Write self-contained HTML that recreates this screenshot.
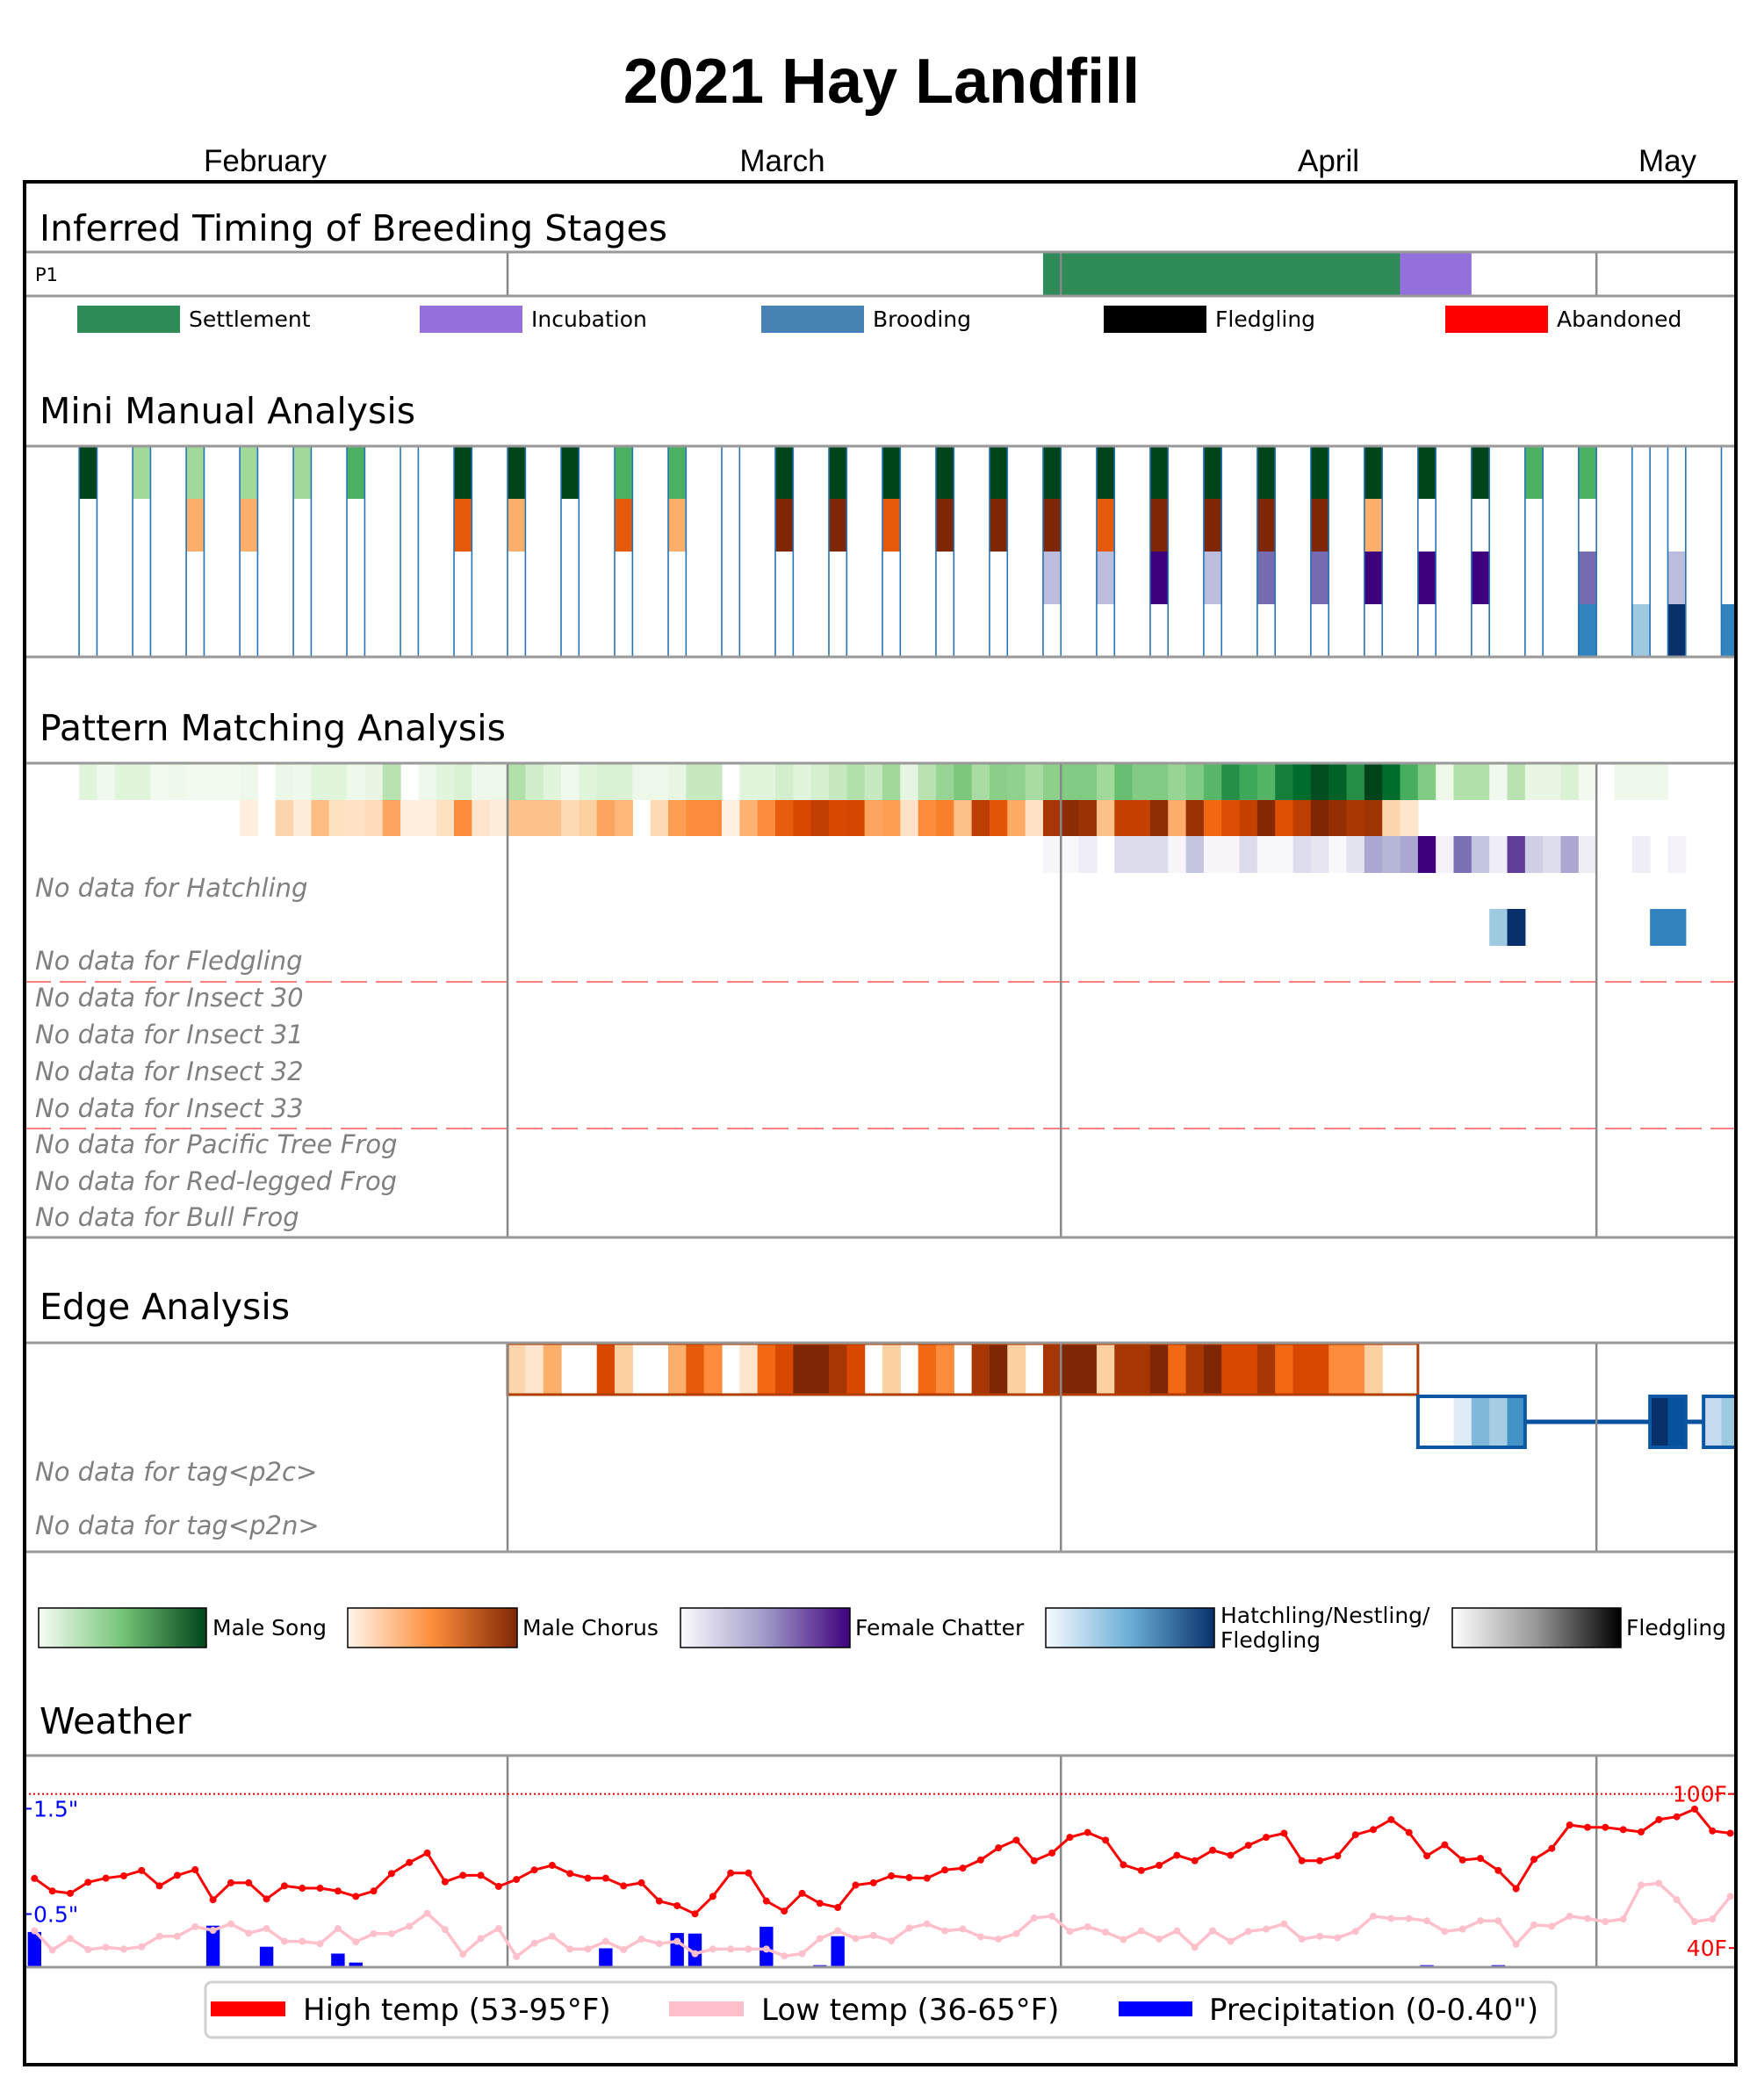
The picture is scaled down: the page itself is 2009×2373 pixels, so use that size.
<!DOCTYPE html>
<html><head><meta charset="utf-8"><style>
html,body{margin:0;padding:0;background:#fff;}
svg{display:block;}
.sec{font-family:"DejaVu Sans",sans-serif;font-size:41px;fill:#000;}
.nd{font-family:"DejaVu Sans",sans-serif;font-style:italic;font-size:29px;fill:#808080;}
.lg{font-family:"DejaVu Sans",sans-serif;font-size:25px;fill:#000;}
.mon{font-family:"Liberation Sans",sans-serif;font-size:35px;fill:#000;}
</style></head><body>
<svg id="chart" width="2009" height="2373" viewBox="0 0 2009 2373" xmlns="http://www.w3.org/2000/svg">
<rect x="0" y="0" width="2009" height="2373" fill="#fff"/>
<text x="1004" y="117" text-anchor="middle" font-family="Liberation Sans, sans-serif" font-weight="bold" font-size="72">2021 Hay Landfill</text>
<text class="mon" x="302" y="195" text-anchor="middle">February</text>
<text class="mon" x="891" y="195" text-anchor="middle">March</text>
<text class="mon" x="1513" y="195" text-anchor="middle">April</text>
<text class="mon" x="1899" y="195" text-anchor="middle">May</text>

<text class="sec" x="45" y="274">Inferred Timing of Breeding Stages</text>
<text class="sec" x="45" y="482">Mini Manual Analysis</text>
<text class="sec" x="45" y="843">Pattern Matching Analysis</text>
<text class="sec" x="45" y="1502">Edge Analysis</text>
<text class="sec" x="45" y="1974">Weather</text>

<g id="content" clip-path="url(#frameclip)"></g>
<defs>
<clipPath id="frameclip"><rect x="28" y="207" width="1949" height="2144"/></clipPath>
<linearGradient id="gGreens"><stop offset="0" stop-color="#f7fcf5"/><stop offset="0.5" stop-color="#74c476"/><stop offset="1" stop-color="#00441b"/></linearGradient>
<linearGradient id="gOranges"><stop offset="0" stop-color="#fff5eb"/><stop offset="0.5" stop-color="#fd8d3c"/><stop offset="1" stop-color="#7f2704"/></linearGradient>
<linearGradient id="gPurples"><stop offset="0" stop-color="#fcfbfd"/><stop offset="0.5" stop-color="#9e9ac8"/><stop offset="1" stop-color="#3f007d"/></linearGradient>
<linearGradient id="gBlues"><stop offset="0" stop-color="#f7fbff"/><stop offset="0.5" stop-color="#6baed6"/><stop offset="1" stop-color="#08306b"/></linearGradient>
<linearGradient id="gGreys"><stop offset="0" stop-color="#ffffff"/><stop offset="0.5" stop-color="#969696"/><stop offset="1" stop-color="#000000"/></linearGradient>
</defs>

<!-- colorbar legend -->
<rect x="44" y="1831" width="191" height="45" fill="url(#gGreens)" stroke="#000" stroke-width="1.5"/>
<text class="lg" x="242" y="1862">Male Song</text>
<rect x="396" y="1831" width="193" height="45" fill="url(#gOranges)" stroke="#000" stroke-width="1.5"/>
<text class="lg" x="595" y="1862">Male Chorus</text>
<rect x="775" y="1831" width="193" height="45" fill="url(#gPurples)" stroke="#000" stroke-width="1.5"/>
<text class="lg" x="974" y="1862">Female Chatter</text>
<rect x="1191" y="1831" width="192" height="45" fill="url(#gBlues)" stroke="#000" stroke-width="1.5"/>
<text class="lg" x="1390" y="1848">Hatchling/Nestling/</text>
<text class="lg" x="1390" y="1876">Fledgling</text>
<rect x="1654" y="1831" width="192" height="45" fill="url(#gGreys)" stroke="#000" stroke-width="1.5"/>
<text class="lg" x="1852" y="1862">Fledgling</text>

<!-- weather legend -->
<rect x="234" y="2257" width="1538" height="63" rx="7" fill="#fff" stroke="#d0d0d0" stroke-width="3"/>
<rect x="240" y="2279" width="85" height="17" fill="#ff0000"/>
<text x="345" y="2300" font-family="DejaVu Sans, sans-serif" font-size="34">High temp (53-95°F)</text>
<rect x="762" y="2279" width="85" height="17" fill="#ffc0cb"/>
<text x="867" y="2300" font-family="DejaVu Sans, sans-serif" font-size="34">Low temp (36-65°F)</text>
<rect x="1274" y="2279" width="84" height="17" fill="#0000ff"/>
<text x="1377" y="2300" font-family="DejaVu Sans, sans-serif" font-size="34">Precipitation (0-0.40")</text>

<rect x="28" y="207" width="1949" height="2144" fill="none" stroke="#000" stroke-width="4"/>
</svg>
<script>
// ---------- data ----------
const stageNames = ["Settlement","Incubation","Brooding","Fledgling","Abandoned"];
const stageColors = ["#2e8b57","#9370db","#4682b4","#000000","#ff0000"];
const stageStart = [58, 78];
const stageEnd = [78, 82];

const mmDays = [4,7,10,13,16,19,22,25,28,31,34,37,40,43,46,49,52,55,58,61,64,67,70,73,76,79,82,85,88,91,93,96];
const mmSong = [1,.375,.375,.375,.375,.6,null,1,1,1,.6,.6,null,1,1,1,1,1,1,1,1,1,1,1,1,1,1,.6,.6,null,null,null];
const mmChorus = [null,null,.375,.375,null,null,null,.68,.375,null,.68,.375,null,1,1,.68,1,1,1,.68,1,1,1,1,.375,null,null,null,null,null,null,null];
const mmFemale = [null,null,null,null,null,null,null,null,null,null,null,null,null,null,null,null,null,null,.375,.375,1,.375,.68,.68,1,1,1,null,.68,null,.375,null];
const mmBrood = [null,null,null,null,null,null,null,null,null,null,null,null,null,null,null,null,null,null,null,null,null,null,null,null,null,null,null,null,.68,.375,1,.68];

const pmSongStart = 4;
const pmSong = [.14,.05,.14,.14,.03,.06,.03,.03,.03,.06,null,.08,.06,.14,.14,.06,.1,.3,null,.06,.14,.17,.06,.07,.32,.21,.14,.05,.14,.17,.17,.07,.07,.1,.25,.25,null,.14,.14,.2,.14,.19,.25,.32,.25,.375,.12,.3,.4,.48,.35,.44,.42,.35,.43,.46,.46,.375,.53,.46,.46,.4,.46,.57,.74,.64,.58,.8,.875,.97,.91,.74,1,.875,.61,.46,.07,.32,.32,.05,.3,.1,.1,.17,.03,null,.06,.06,.06];
const pmChorusStart = 13;
const pmChorus = [.06,null,.22,.07,.32,.16,.15,.18,.41,.06,.06,.16,.5,.13,.07,.3,.3,.3,.2,.25,.41,.34,null,.2,.44,.5,.5,.04,.36,.5,.67,.75,.81,.745,.76,.41,.44,.15,.5,.55,.31,.82,.7,.39,.15,.875,.96,.91,.31,.8,.8,.95,.38,.91,.63,.73,.8,.98,.72,.82,1,.93,.87,.9,.22,.13];
const pmFemaleStart = 58;
const pmFemale = [.05,.04,.125,null,.24,.24,.24,.05,.34,.05,.05,.24,.04,.04,.23,.18,.04,.19,.45,.4,.45,1,.08,.66,.34,.125,.81,.3,.23,.45,.125,null,null,.125,null,.08];
const pmHatchDays = [83,84,92,93];
const pmHatch = [.375,1,.68,.68];

const edgeChorusStart = 28;
const edgeChorus = [.22,.125,.375,null,null,.75,.25,null,null,.375,.68,.5,null,.125,.625,.75,1,1,.875,.75,null,.25,null,.625,.5,null,.875,1,.25,null,.875,1,1,.25,.875,.875,1,.625,.875,1,.75,.75,.875,.625,.75,.75,.5,.5,.25,null,null];
const edgeBlueDays = [79,80,81,82,83,84,92,93,95,96];
const edgeBlue = [null,null,.125,.45,.35,.62,1,.875,.25,.375];
const edgeBoxStart = [79,92,95];
const edgeBoxEnd = [85,94,97];

const wxDays = [];
for (let d = 1; d <= 96; d++) wxDays.push(d);
const highTemp = [67.1,62.2,61.3,65.6,67.2,68.1,70.2,64.2,68.3,70.5,58.8,65.4,65.4,59.1,64.2,63.3,63.3,62.2,60.1,62.2,69.0,73.3,77.0,65.8,68.3,68.3,64.0,66.7,70.4,72.2,69.0,67.2,67.2,64.2,65.4,58.3,56.5,53.3,60.1,69.2,69.2,58.3,54.4,61.3,57.4,55.8,64.5,65.4,68.1,67.4,67.2,70.4,71.1,74.3,79.0,82.0,74.0,77.0,83.1,85.0,82.0,72.4,70.2,72.2,76.1,74.0,78.1,76.1,80.0,83.1,84.7,74.0,74.0,75.9,84.1,86.1,90.0,85.0,75.9,80.2,74.3,74.9,70.2,63.1,74.5,78.8,87.9,87.0,87.0,86.1,85.2,90.0,91.1,94.1,85.6,84.7];
const lowTemp = [46.7,39.2,43.7,39.4,40.3,39.6,40.5,44.6,44.6,48.3,46.9,49.4,45.8,47.6,42.6,42.6,41.7,47.6,42.4,45.6,45.6,48.5,53.5,47.2,37.6,43.7,47.6,36.7,41.9,44.6,39.6,39.6,42.6,39.4,43.5,41.7,42.6,37.8,39.6,39.6,39.6,39.6,36.9,37.8,43.7,46.7,43.7,44.9,42.8,47.8,49.4,46.7,47.4,44.4,43.5,45.6,51.7,52.4,46.5,48.3,46.2,43.3,46.7,43.5,46.7,40.3,46.7,42.6,46.5,47.4,49.4,43.5,44.6,44.0,46.5,52.4,51.5,51.5,50.6,46.5,47.4,50.6,50.6,41.5,49.0,48.5,52.4,51.5,50.3,51.3,64.5,65.2,58.8,50.3,51.3,60.1];
const precipDays = [1,11,14,18,19,33,37,38,42,45,46,79,83];
const precip = [0.33,0.39,0.19,0.125,0.04,0.175,0.32,0.315,0.38,0.015,0.29,0.015,0.015];
const tempTicks = [100,40];
const tempTickLabels = ["100F","40F"];
const precipTicks = [1.5,0.5];
const precipTickLabels = ['1.5"','0.5"'];
const monthDays = [28,59,89];
const ndPattern = ["No data for Hatchling","No data for Fledgling","No data for Insect 30","No data for Insect 31","No data for Insect 32","No data for Insect 33","No data for Pacific Tree Frog","No data for Red-legged Frog","No data for Bull Frog"];
const ndPatternY = [1021,1104,1146,1188,1230,1272,1313,1355,1396];

// ---------- scales ----------
const X0 = 8.8, DW = 20.33;
function dx(d){ return X0 + DW*d; }
function yT(f){ return 2042.7 + (100-f)*2.925; }
function yP(p){ return 2239.5 - p*120; }
const CM = {
 g:["#f7fcf5","#e5f5e0","#c7e9c0","#a1d99b","#74c476","#41ab5d","#238b45","#006d2c","#00441b"],
 o:["#fff5eb","#fee6ce","#fdd0a2","#fdae6b","#fd8d3c","#f16913","#d94801","#a63603","#7f2704"],
 p:["#fcfbfd","#efedf5","#dadaeb","#bcbddc","#9e9ac8","#807dba","#6a51a3","#54278f","#3f007d"],
 b:["#f7fbff","#deebf7","#c6dbef","#9ecae1","#6baed6","#4292c6","#2171b5","#08519c","#08306b"]
};
function hex2(c){return [parseInt(c.substr(1,2),16),parseInt(c.substr(3,2),16),parseInt(c.substr(5,2),16)];}
function cmap(name,v){
  const s = CM[name]; v = Math.max(0,Math.min(1,v));
  const t = v*(s.length-1); const i = Math.min(s.length-2, Math.floor(t)); const f = t-i;
  const a = hex2(s[i]), b = hex2(s[i+1]);
  return "rgb("+a.map((x,k)=>Math.round(x+(b[k]-x)*f)).join(",")+")";
}
const NS = "http://www.w3.org/2000/svg";
const root = document.getElementById("content");
function mk(tag, attrs, parent){
  const e = document.createElementNS(NS, tag);
  for (const k in attrs) e.setAttribute(k, attrs[k]);
  (parent||root).appendChild(e); return e;
}
function hline(y, name){
  const e = mk("line",{x1:28,x2:1977,y1:y,y2:y,stroke:"#999",'stroke-width':3});
  
  
}
function vlines(y1,y2,prefix){
  monthDays.forEach((d,i)=>{
    const e = mk("line",{x1:dx(d),x2:dx(d),y1:y1,y2:y2,stroke:"#888",'stroke-width':2.5});
    
    
  });
}
function cell(d, y, h, color, name){
  const e = mk("rect",{x:dx(d),y:y,width:DW+0.6,height:h,fill:color});
  
  
  return e;
}

// ---------- breeding stages ----------
stageStart.forEach((s,i)=>{
  const e = mk("rect",{x:dx(s),y:287,width:dx(stageEnd[i])-dx(s),height:50,fill:stageColors[i]});
  
  
});
vlines(287,337,'stages');
hline(287,'stages-top-border'); hline(337,'stages-bottom-border');
{
  const t = mk("text",{x:40,y:320,'font-family':'DejaVu Sans, sans-serif','font-size':21});
  t.textContent = "P1";
  
  
}
const legX = [88,478,867,1257,1646];
stageNames.forEach((n,i)=>{
  const r = mk("rect",{x:legX[i],y:348,width:117,height:31,fill:stageColors[i]});
  
  
  const t = mk("text",{x:legX[i]+127,y:372,'font-family':'DejaVu Sans, sans-serif','font-size':25});
  t.textContent = n;
  
  
});

// ---------- mini manual ----------
const mmRows = [[mmSong,'g'],[mmChorus,'o'],[mmFemale,'p'],[mmBrood,'b']];
mmDays.forEach((d,i)=>{
  mmRows.forEach((r,k)=>{
    const v = r[0][i];
    const c = cell(d, 508+k*60, 60, v==null ? "#fff" : cmap(r[1], v), 'manual-cell');
  });
  [dx(d), dx(d+1)].forEach(x=>{
    const l = mk("line",{x1:x,x2:x,y1:508,y2:748,stroke:"#2673b8",'stroke-width':1.6});
    
    
  });
});
hline(508,'manual-top-border'); hline(748,'manual-bottom-border');

// ---------- pattern matching ----------
function rowCells(arr, start, cm, y, h, name){
  arr.forEach((v,i)=>{ if (v!=null) cell(start+i, y, h, cmap(cm,v), name); });
}
rowCells(pmSong, pmSongStart, 'g', 870, 41, 'pattern-song-cell');
rowCells(pmChorus, pmChorusStart, 'o', 911, 41, 'pattern-chorus-cell');
rowCells(pmFemale, pmFemaleStart, 'p', 952, 42, 'pattern-female-cell');
pmHatchDays.forEach((d,i)=>{ cell(d, 1035, 42, cmap('b', pmHatch[i]), 'pattern-hatchling-cell'); });
[1118,1285].forEach((y,i)=>{
  const l = mk("line",{x1:28,x2:1977,y1:y,y2:y,stroke:"#ff8080",'stroke-width':2,'stroke-dasharray':'30 10'});
  
  
});
ndPattern.forEach((s,i)=>{
  const t = mk("text",{x:40,y:ndPatternY[i],class:'nd'});
  t.textContent = s;
  
  
});
vlines(869,1409,'pattern');
hline(869,'pattern-top-border'); hline(1409,'pattern-bottom-border');

// ---------- edge analysis ----------
rowCells(edgeChorus, edgeChorusStart, 'o', 1530, 58, 'edge-chorus-cell');
{
  const b = mk("rect",{x:dx(edgeChorusStart),y:1530,width:dx(edgeChorusStart+edgeChorus.length)-dx(edgeChorusStart),height:58,fill:"none",stroke:"#b33c00",'stroke-width':3});
  
  
}
{
  const l = mk("line",{x1:dx(edgeBoxEnd[0]),x2:dx(edgeBoxStart[2]),y1:1619,y2:1619,stroke:"#08519c",'stroke-width':5});
  
  
}
edgeBlueDays.forEach((d,i)=>{
  cell(d, 1590, 58, edgeBlue[i]==null ? "#fff" : cmap('b', edgeBlue[i]), 'edge-hatchling-cell');
});
edgeBoxStart.forEach((s,i)=>{
  const b = mk("rect",{x:dx(s),y:1590,width:dx(edgeBoxEnd[i])-dx(s),height:58,fill:"none",stroke:"#0b57a4",'stroke-width':4});
  
  
});
[["No data for tag<p2c>",1686],["No data for tag<p2n>",1747]].forEach(p=>{
  const t = mk("text",{x:40,y:p[1],class:'nd'});
  t.textContent = p[0];
  
  
});
vlines(1529,1767,'edge');
hline(1529,'edge-top-border'); hline(1767,'edge-bottom-border');

// ---------- weather ----------
vlines(1999,2240,'weather');
{
  const l = mk("line",{x1:28,x2:1977,y1:yT(100),y2:yT(100),stroke:"#ff0000",'stroke-width':2,'stroke-dasharray':'2 3'});
  
  
}
precipDays.forEach((d,i)=>{
  const cx = dx(d)+DW/2;
  const r = mk("rect",{x:cx-7.7,y:yP(precip[i]),width:15.4,height:yP(0)-yP(precip[i]),fill:"#0000ff"});
  
  
});
function series(vals, color, lw, rr, name){
  const pts = vals.map((v,i)=>[dx(wxDays[i])+DW/2, yT(v)]);
  const p = mk("polyline",{points:pts.map(q=>q[0].toFixed(1)+","+q[1].toFixed(1)).join(" "),fill:"none",stroke:color,'stroke-width':lw,'stroke-linejoin':'round'});
  
  
  pts.forEach(q=>{
    const c = mk("circle",{cx:q[0],cy:q[1],r:rr,fill:color});
    
    
  });
}
series(lowTemp, "#ffc0cb", 3.5, 4, 'low-temp');
series(highTemp, "#ff0000", 3, 4, 'high-temp');
tempTicks.forEach((t,i)=>{
  const l = mk("line",{x1:1969,x2:1977,y1:yT(t),y2:yT(t),stroke:"#ff0000",'stroke-width':2});
  
  
  const tx = mk("text",{x:1967,y:yT(t)+9,'text-anchor':'end',fill:"#ff0000",'font-family':'DejaVu Sans, sans-serif','font-size':25});
  tx.textContent = tempTickLabels[i];
  
  
});
precipTicks.forEach((t,i)=>{
  const l = mk("line",{x1:28,x2:36,y1:yP(t),y2:yP(t),stroke:"#0000ff",'stroke-width':2});
  
  
  const tx = mk("text",{x:38,y:yP(t)+9,fill:"#0000ff",'font-family':'DejaVu Sans, sans-serif','font-size':25});
  tx.textContent = precipTickLabels[i];
  
  
});
hline(1999,'weather-top-border'); hline(2240,'weather-bottom-border');
</script>
</body></html>
